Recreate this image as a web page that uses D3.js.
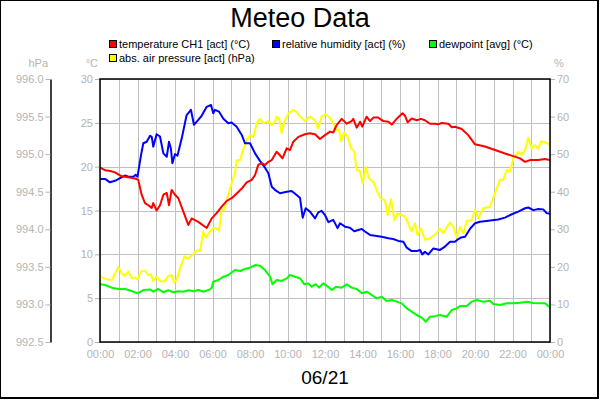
<!DOCTYPE html>
<html>
<head>
<meta charset="utf-8">
<script src="https://cdn.jsdelivr.net/npm/d3@7"></script>
<style>
  html, body { margin: 0; padding: 0; background: #fff; }
  svg { display: block; }
  text { font-family: "Liberation Sans", Arial, sans-serif; }
</style>
</head>
<body>
<svg id="chart" width="600" height="400"></svg>
<script>
// ---------- DATA ----------
const title = "Meteo Data";
const dateLabel = "06/21";
const seriesNames = ["temperature CH1 [act] (°C)", "relative humidity [act] (%)", "dewpoint [avg] (°C)", "abs. air pressure [act] (hPa)"];
const seriesColors = ["#ff0000", "#0000ff", "#00ff00", "#ffff00"];

const timeLabels = ["00:00","02:00","04:00","06:00","08:00","10:00","12:00","14:00","16:00","18:00","20:00","22:00","00:00"];
const tempTicks = [0, 5, 10, 15, 20, 25, 30];
const pressureTicks = [992.5, 993.0, 993.5, 994.0, 994.5, 995.0, 995.5, 996.0];
const humidityTicks = [0, 10, 20, 30, 40, 50, 60, 70];

// [hour, °C]
const temperature = [[0,19.9],[0.27,19.6],[0.55,19.5],[0.8,19.35],[1.16,18.9],[1.5,18.8],[1.87,18.65],[2.04,18.5],[2.22,16.8],[2.4,15.85],[2.58,15.6],[2.76,15.3],[2.84,15.85],[3.02,15.0],[3.2,15.6],[3.38,16.8],[3.56,17.0],[3.68,15.6],[3.82,17.35],[4.0,16.8],[4.18,16.4],[4.44,14.9],[4.71,13.35],[4.89,14.1],[5.24,13.7],[5.69,13.0],[5.96,14.1],[6.22,14.7],[6.49,15.45],[6.76,16.1],[7.02,16.4],[7.29,16.95],[7.56,17.5],[7.82,18.2],[8.09,18.5],[8.27,19.05],[8.44,20.2],[8.62,20.4],[8.8,20.2],[8.98,20.55],[9.16,20.75],[9.42,21.7],[9.6,21.3],[9.73,20.95],[9.96,22.1],[10.13,21.9],[10.31,22.85],[10.58,23.4],[10.93,23.7],[11.2,23.8],[11.47,23.7],[11.73,23.15],[12.0,23.6],[12.27,24.0],[12.44,23.9],[12.62,24.75],[12.89,25.45],[13.16,24.9],[13.42,25.2],[13.51,25.45],[13.69,24.45],[13.87,25.13],[13.99,24.56],[14.22,25.7],[14.4,25.2],[14.58,25.6],[14.84,25.6],[15.11,25.2],[15.38,25.13],[15.56,24.8],[15.82,25.45],[16.13,26.1],[16.27,25.8],[16.41,25.05],[16.62,25.5],[16.89,25.3],[17.12,25.45],[17.33,25.3],[17.6,24.9],[17.87,24.9],[18.04,24.83],[18.22,24.98],[18.58,24.9],[18.76,24.5],[18.93,24.56],[19.29,24.3],[19.64,23.6],[20.0,22.55],[20.53,22.3],[21.07,21.9],[21.6,21.5],[22.04,21.2],[22.4,20.95],[22.67,20.55],[22.93,20.75],[23.38,20.75],[23.73,20.87],[24,20.75]];

// [hour, %]
const humidity = [[0,43.4],[0.27,43.4],[0.53,42.5],[0.8,42.9],[1.07,43.6],[1.33,44.3],[1.51,44.0],[1.78,44.0],[1.9,44.5],[2.0,44.0],[2.19,49.8],[2.31,52.9],[2.49,53.3],[2.67,54.9],[2.76,54.6],[2.84,52.0],[3.02,55.3],[3.2,54.7],[3.38,50.2],[3.56,49.3],[3.68,53.3],[3.78,51.5],[3.86,47.6],[4.0,50.0],[4.13,49.6],[4.36,54.2],[4.62,60.4],[4.85,61.8],[5.01,57.8],[5.24,59.1],[5.42,60.2],[5.69,62.6],[5.92,63.1],[6.04,60.9],[6.13,61.8],[6.35,61.3],[6.58,59.4],[6.84,58.2],[7.02,58.4],[7.29,57.3],[7.56,55.1],[7.73,52.9],[8.0,52.9],[8.27,50.2],[8.53,48.2],[8.8,46.4],[8.98,44.9],[9.16,41.3],[9.33,40.5],[9.6,39.6],[9.96,40.0],[10.22,40.2],[10.49,39.1],[10.67,38.3],[10.81,33.1],[10.97,35.6],[11.2,34.7],[11.47,32.9],[11.64,34.5],[11.82,34.9],[12.0,33.8],[12.18,31.9],[12.44,32.5],[12.67,30.3],[12.8,31.6],[13.07,30.7],[13.33,30.4],[13.56,29.5],[13.78,29.8],[13.96,30.1],[14.13,29.4],[14.4,28.5],[14.67,28.3],[15.02,28.0],[15.38,27.6],[15.64,27.4],[15.91,26.9],[16.18,26.7],[16.36,25.1],[16.62,24.2],[16.89,24.2],[17.07,24.5],[17.19,23.3],[17.33,24.0],[17.51,23.3],[17.78,24.9],[18.13,24.5],[18.4,25.4],[18.67,26.7],[18.93,26.7],[19.11,27.4],[19.25,27.8],[19.47,28.0],[19.73,30.1],[20.0,31.6],[20.27,32.0],[20.71,32.3],[21.24,32.6],[21.6,33.1],[21.96,34.0],[22.31,34.7],[22.67,35.6],[22.84,35.8],[23.11,35.1],[23.38,35.4],[23.64,35.3],[23.82,34.3],[24,34.1]];

// [hour, °C]
const dewpoint = [[0,6.58],[0.27,6.5],[0.62,6.2],[0.98,6.05],[1.33,6.05],[1.69,5.82],[2.0,5.55],[2.31,5.93],[2.67,6.0],[2.84,5.74],[3.11,6.05],[3.38,5.67],[3.64,5.9],[3.91,5.67],[4.18,5.8],[4.44,5.74],[4.71,5.9],[4.98,5.8],[5.24,5.93],[5.51,5.74],[5.87,6.0],[5.96,6.2],[6.04,6.88],[6.31,7.07],[6.58,7.45],[6.84,7.64],[7.2,8.21],[7.47,8.1],[7.73,8.33],[8.0,8.48],[8.27,8.78],[8.53,8.7],[8.8,8.21],[9.07,7.45],[9.2,6.58],[9.42,7.07],[9.69,6.96],[9.96,7.26],[10.13,7.64],[10.4,7.45],[10.67,7.26],[10.9,6.58],[11.11,6.69],[11.29,6.31],[11.5,6.6],[11.68,6.2],[11.9,6.69],[12.09,6.43],[12.37,5.93],[12.58,6.31],[12.89,6.2],[13.16,6.58],[13.42,6.2],[13.69,6.05],[13.96,5.55],[14.22,5.74],[14.49,5.36],[14.76,4.98],[15.02,5.17],[15.29,4.68],[15.56,4.79],[15.82,4.6],[16.09,4.41],[16.36,3.84],[16.62,3.46],[16.89,3.08],[17.16,2.77],[17.38,2.32],[17.6,2.89],[17.87,2.95],[18.13,3.08],[18.49,2.89],[18.76,3.65],[19.02,3.84],[19.2,4.1],[19.56,4.1],[19.82,4.6],[20.09,4.79],[20.44,4.6],[20.8,4.7],[20.98,4.33],[21.33,4.22],[21.69,4.41],[22.04,4.41],[22.4,4.48],[22.76,4.6],[23.11,4.45],[23.47,4.41],[23.73,4.41],[24,3.95]];

// [hour, hPa]
const pressure = [[0,993.37],[0.18,993.35],[0.44,993.33],[0.66,993.33],[0.8,993.41],[0.98,993.50],[1.16,993.41],[1.33,993.38],[1.51,993.44],[1.69,993.35],[1.87,993.36],[2.0,993.33],[2.19,993.44],[2.4,993.45],[2.58,993.39],[2.72,993.40],[2.84,993.31],[3.02,993.37],[3.2,993.31],[3.47,993.31],[3.64,993.38],[3.82,993.39],[3.96,993.29],[4.09,993.33],[4.27,993.48],[4.5,993.64],[4.71,993.61],[4.89,993.65],[5.16,993.72],[5.33,993.71],[5.51,993.97],[5.65,993.89],[5.87,993.97],[6.04,994.02],[6.22,994.01],[6.35,993.98],[6.49,994.26],[6.62,994.26],[6.84,994.46],[7.02,994.61],[7.2,994.75],[7.29,994.92],[7.47,994.92],[7.64,995.06],[7.82,995.19],[8.0,995.25],[8.18,995.23],[8.36,995.41],[8.53,995.47],[8.71,995.41],[8.98,995.44],[9.16,995.39],[9.33,995.43],[9.42,995.50],[9.55,995.48],[9.69,995.28],[9.83,995.43],[10.04,995.54],[10.31,995.59],[10.49,995.56],[10.67,995.50],[10.93,995.44],[11.2,995.50],[11.47,995.45],[11.64,995.34],[11.82,995.50],[12.04,995.53],[12.27,995.48],[12.44,995.41],[12.62,995.32],[12.75,995.33],[12.85,995.17],[13.03,995.29],[13.2,995.23],[13.39,995.08],[13.56,995.03],[13.69,994.79],[13.87,994.77],[14.01,994.61],[14.17,994.83],[14.35,994.68],[14.58,994.63],[14.76,994.52],[14.93,994.42],[15.2,994.38],[15.34,994.19],[15.52,994.40],[15.7,994.12],[15.87,994.21],[16.09,994.19],[16.27,994.17],[16.44,994.08],[16.62,993.97],[16.8,994.08],[16.94,993.92],[17.12,994.01],[17.33,993.86],[17.6,993.88],[17.87,993.93],[18.13,994.01],[18.31,993.95],[18.49,994.03],[18.67,994.09],[18.84,994.03],[19.02,993.90],[19.2,994.03],[19.38,993.95],[19.56,994.11],[19.82,994.12],[20.0,994.26],[20.18,994.15],[20.44,994.28],[20.8,994.30],[21.07,994.48],[21.33,994.66],[21.51,994.66],[21.69,994.79],[21.87,994.77],[22.04,994.94],[22.31,995.03],[22.49,994.99],[22.67,995.06],[22.84,995.22],[23.02,995.08],[23.2,995.12],[23.38,995.07],[23.52,995.17],[23.73,995.16],[23.91,995.14],[24,995.11]];

// ---------- LAYOUT ----------
const W = 600, H = 400;
const plot = { left: 100, right: 550, top: 79, bottom: 342 };
const gray = "#b4b4b4";
const gridColor = "#c0c0c0";

const svg = d3.select("#chart");

svg.append("rect").attr("x", 0).attr("y", 0).attr("width", W - 2).attr("height", H - 2)
  .attr("fill", "#fff").attr("stroke", "#000").attr("stroke-width", 2);

const x = d3.scaleLinear().domain([0, 24]).range([plot.left, plot.right]);
const yT = d3.scaleLinear().domain([0, 30]).range([plot.bottom, plot.top]);
const yP = d3.scaleLinear().domain([992.5, 996.0]).range([plot.bottom, plot.top]);
const yH = d3.scaleLinear().domain([0, 70]).range([plot.bottom, plot.top]);

// grid
const hours = d3.range(0, 25);
svg.append("g").selectAll("line").data(hours).join("line")
  .attr("x1", d => Math.round(x(d)) + 0.5).attr("x2", d => Math.round(x(d)) + 0.5)
  .attr("y1", plot.top).attr("y2", plot.bottom)
  .attr("stroke", gridColor).attr("stroke-width", 1);
svg.append("g").selectAll("line").data(tempTicks).join("line")
  .attr("x1", plot.left).attr("x2", plot.right)
  .attr("y1", d => Math.round(yT(d)) + 0.5).attr("y2", d => Math.round(yT(d)) + 0.5)
  .attr("stroke", gridColor).attr("stroke-width", 1);

function styleAxis(g) {
  g.selectAll(".tick line").attr("stroke", gray);
  g.selectAll(".tick text").attr("fill", gray)
    .style("font-family", '"Liberation Sans", Arial, sans-serif').style("font-size", "11px");
}

// left pressure axis
const gP = svg.append("g").attr("transform", "translate(50.5,0)")
  .call(d3.axisLeft(yP).tickValues(pressureTicks).tickFormat(d3.format(".1f")).tickSize(5).tickSizeOuter(0).tickPadding(2));
gP.select(".domain").attr("stroke", "#000").attr("stroke-width", 1.5);
styleAxis(gP);

// temperature axis
const gT = svg.append("g").attr("transform", `translate(${plot.left},0)`)
  .call(d3.axisLeft(yT).tickValues(tempTicks).tickSize(5).tickSizeOuter(0).tickPadding(2));
gT.select(".domain").remove();
styleAxis(gT);

// humidity axis
const gH = svg.append("g").attr("transform", `translate(${plot.right},0)`)
  .call(d3.axisRight(yH).tickValues(humidityTicks).tickSize(5).tickSizeOuter(0).tickPadding(2));
gH.select(".domain").remove();
styleAxis(gH);

// time axis
const gX = svg.append("g").attr("transform", `translate(0,${plot.bottom})`)
  .call(d3.axisBottom(x).tickValues(timeLabels.map((_, i) => i * 2))
    .tickFormat((d, i) => timeLabels[i]).tickSize(0).tickSizeOuter(0).tickPadding(8));
gX.select(".domain").remove();
styleAxis(gX);

// unit labels
const unitY = 67;
svg.append("text").attr("x", 48).attr("y", unitY).attr("text-anchor", "end")
  .attr("fill", gray).style("font-size", "11px").text("hPa");
svg.append("text").attr("x", 98).attr("y", unitY).attr("text-anchor", "end")
  .attr("fill", gray).style("font-size", "11px").text("°C");
svg.append("text").attr("x", 554).attr("y", unitY).attr("text-anchor", "start")
  .attr("fill", gray).style("font-size", "11px").text("%");

// data lines
const clip = svg.append("clipPath").attr("id", "clip").append("rect")
  .attr("x", plot.left).attr("y", plot.top).attr("width", plot.right - plot.left).attr("height", plot.bottom - plot.top);

const lines = svg.append("g").attr("clip-path", "url(#clip)");
function drawLine(data, yScale, color) {
  lines.append("path").datum(data)
    .attr("fill", "none").attr("stroke", color).attr("stroke-width", 2)
    .attr("stroke-linejoin", "round").attr("stroke-linecap", "round")
    .attr("d", d3.line().x(d => x(d[0])).y(d => yScale(d[1])));
}
drawLine(pressure, yP, seriesColors[3]);
drawLine(dewpoint, yT, seriesColors[2]);
drawLine(humidity, yH, seriesColors[1]);
drawLine(temperature, yT, seriesColors[0]);

// frame
svg.append("rect").attr("x", plot.left).attr("y", plot.top)
  .attr("width", plot.right - plot.left).attr("height", plot.bottom - plot.top)
  .attr("fill", "none").attr("stroke", "#000").attr("stroke-width", 1.5);

// title & date
svg.append("text").attr("x", 300).attr("y", 27).attr("text-anchor", "middle")
  .style("font-size", "27px").attr("fill", "#000").text(title);
svg.append("text").attr("x", 325).attr("y", 384).attr("text-anchor", "middle")
  .style("font-size", "19px").attr("fill", "#000").text(dateLabel);

// legend
const legendPos = [[109, 40], [272, 40], [429, 40], [109, 54]];
const leg = svg.append("g").selectAll("g").data(seriesNames).join("g")
  .attr("transform", (d, i) => `translate(${legendPos[i][0]},${legendPos[i][1]})`);
leg.append("rect").attr("x", 0.5).attr("y", 0.5).attr("width", 7).attr("height", 7)
  .attr("fill", (d, i) => seriesColors[i]).attr("stroke", "#000").attr("stroke-width", 1);
leg.append("text").attr("x", 10).attr("y", 7.5)
  .style("font-size", "11px").attr("fill", "#000").text(d => d);
</script>
</body>
</html>
